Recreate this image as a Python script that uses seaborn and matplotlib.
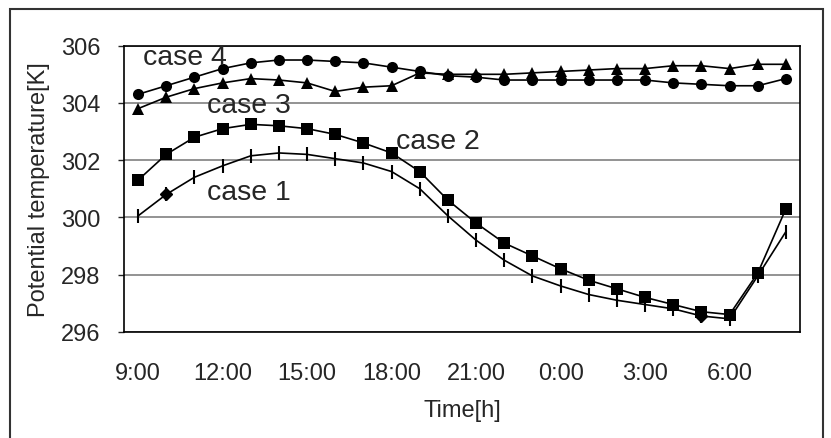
import matplotlib
matplotlib.use("Agg")
import matplotlib.pyplot as plt
import matplotlib.patches as patches
import seaborn as sns
import pandas as pd

# hourly points from 9:00 to 8:00 next morning
hours = [9, 10, 11, 12, 13, 14, 15, 16, 17, 18, 19, 20, 21, 22, 23,
         0, 1, 2, 3, 4, 5, 6, 7, 8]
tick_labels = ["9:00", "12:00", "15:00", "18:00", "21:00", "0:00", "3:00", "6:00"]

case1 = [300.05, 300.8, 301.4, 301.8, 302.15, 302.25, 302.2, 302.05, 301.9, 301.6,
         301.0, 300.05, 299.2, 298.5, 297.95, 297.6, 297.3, 297.1, 296.95, 296.8,
         296.55, 296.45, 297.95, 299.5]
case2 = [301.3, 302.2, 302.8, 303.1, 303.25, 303.2, 303.1, 302.9, 302.6, 302.25,
         301.6, 300.6, 299.8, 299.1, 298.65, 298.2, 297.8, 297.5, 297.2, 296.95,
         296.7, 296.6, 298.05, 300.3]
case3 = [303.8, 304.2, 304.5, 304.7, 304.85, 304.8, 304.7, 304.4, 304.55, 304.6,
         305.05, 305.0, 305.0, 305.0, 305.05, 305.1, 305.15, 305.2, 305.2, 305.3,
         305.3, 305.2, 305.35, 305.35]
case4 = [304.3, 304.6, 304.9, 305.2, 305.4, 305.5, 305.5, 305.45, 305.4, 305.25,
         305.1, 304.95, 304.9, 304.8, 304.8, 304.8, 304.8, 304.8, 304.8, 304.7,
         304.65, 304.6, 304.6, 304.85]
diamond_idx = [1, 20]

df = pd.DataFrame({"idx": range(len(hours)), "hour": hours,
                   "case 1": case1, "case 2": case2, "case 3": case3, "case 4": case4})

sns.set_style("white")
plt.rcParams["font.family"] = ["Liberation Sans", "DejaVu Sans"]

fig = plt.figure(figsize=(8.31, 4.39), dpi=100)
ax = fig.add_axes([0.1492, 0.2421, 0.8135, 0.6515])

lw = 1.2
sns.lineplot(data=df, x="idx", y="case 1", ax=ax, color="black", lw=lw,
             marker="|", markersize=10, markeredgewidth=1.5, markeredgecolor="black")
ax.plot(df["idx"].iloc[diamond_idx], df["case 1"].iloc[diamond_idx], ls="none",
        marker="D", markersize=6, color="black")
sns.lineplot(data=df, x="idx", y="case 2", ax=ax, color="black", lw=lw,
             marker="s", markersize=8.5, markeredgewidth=0)
sns.lineplot(data=df, x="idx", y="case 3", ax=ax, color="black", lw=lw,
             marker="^", markersize=8.5, markeredgewidth=0)
sns.lineplot(data=df, x="idx", y="case 4", ax=ax, color="black", lw=lw,
             marker="o", markersize=8, markeredgewidth=0)

ax.set_xlim(-0.5, len(hours) - 0.5)
ax.set_ylim(296, 306)
ax.set_yticks(range(296, 307, 2))
ax.yaxis.grid(True, color="#808080", lw=1.2)
ax.set_axisbelow(True)

# tick marks between categories, labels every 3 hours
ax.set_xticks([i + 0.5 for i in range(len(hours) - 1)], labels=[])
ax.set_xticks(list(range(0, len(hours), 3)), labels=tick_labels, minor=True)
ax.tick_params(axis="x", which="major", direction="in", length=7, width=1, color="black")
ax.tick_params(axis="x", which="minor", length=0, pad=22, labelsize=17)
ax.tick_params(axis="y", direction="out", length=4, width=1, pad=13, labelsize=17, left=True)

for s in ax.spines.values():
    s.set_color("black")
    s.set_linewidth(1.2)

ax.set_xlabel("Time[h]", fontsize=17)
ax.xaxis.set_label_coords(0.5, -0.235)
ax.set_ylabel("Potential temperature[K]", fontsize=17)
ax.yaxis.set_label_coords(-0.109, 0.5)

fs = 20.5
ax.text(0.18, 305.36, "case 4", fontsize=fs, ha="left", va="baseline")
ax.text(2.45, 303.69, "case 3", fontsize=fs, ha="left", va="baseline")
ax.text(9.17, 302.41, "case 2", fontsize=fs, ha="left", va="baseline")
ax.text(2.45, 300.64, "case 1", fontsize=fs, ha="left", va="baseline")

fig.patches.append(patches.Rectangle((0.012, -0.05), 0.978, 1.027, transform=fig.transFigure,
                                     fill=False, edgecolor="#333333", lw=1.5))

fig.savefig("out.png", dpi=100)
